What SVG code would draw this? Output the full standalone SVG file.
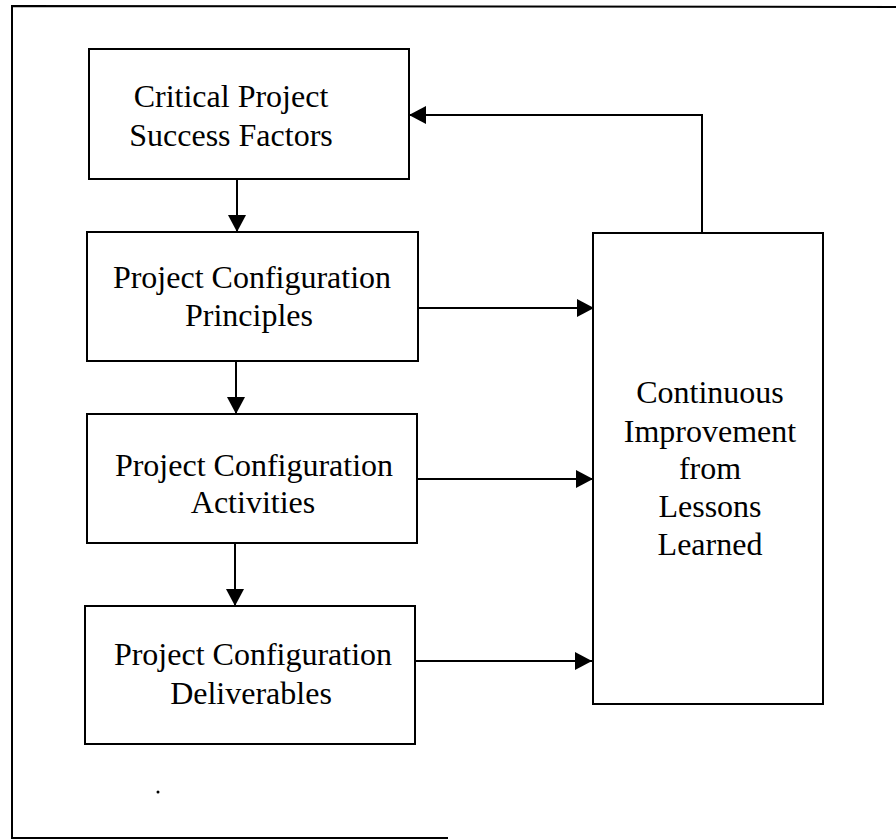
<svg xmlns="http://www.w3.org/2000/svg" width="896" height="840" viewBox="0 0 896 840">
  <style>
    .box { fill: #ffffff; stroke: #000000; stroke-width: 2; }
    .frame { fill: none; stroke: #000000; stroke-width: 2; }
    .link { fill: none; stroke: #000000; stroke-width: 2; }
    .label { font-family: "Liberation Serif", "Times New Roman", serif; font-size: 32px; fill: #000000; text-anchor: middle; }
  </style>
  <defs>
    <marker id="arrow" viewBox="0 0 17 18" refX="17" refY="9" markerWidth="17" markerHeight="18" markerUnits="userSpaceOnUse" orient="auto">
      <path d="M0,0 L17,9 L0,18 Z" fill="#000000"/>
    </marker>
  </defs>

  <rect width="896" height="840" fill="#ffffff"/>

  <!-- outer frame (open on the right) -->
  <g id="frame">
    <path class="frame" d="M896,7 L12,6 L12,838 L448,838"/>
  </g>

  <!-- connectors -->
  <g id="connectors">
    <line class="link" x1="237" y1="179" x2="237" y2="232" marker-end="url(#arrow)"/>
    <line class="link" x1="236" y1="361" x2="236" y2="414" marker-end="url(#arrow)"/>
    <line class="link" x1="235" y1="543" x2="235" y2="606" marker-end="url(#arrow)"/>
    <line class="link" x1="418" y1="308" x2="594" y2="308" marker-end="url(#arrow)"/>
    <line class="link" x1="417" y1="479" x2="593" y2="479" marker-end="url(#arrow)"/>
    <line class="link" x1="415" y1="661" x2="592" y2="661" marker-end="url(#arrow)"/>
    <path class="link" d="M702,233 L702,115 L409,115" marker-end="url(#arrow)"/>
  </g>

  <g id="critical-success-factors">
    <rect class="box" x="89" y="49" width="320" height="130"/>
    <text class="label" x="231" y="107">Critical Project</text>
    <text class="label" x="231" y="146">Success Factors</text>
  </g>

  <g id="configuration-principles">
    <rect class="box" x="87" y="232" width="331" height="129"/>
    <text class="label" x="252" y="288">Project Configuration</text>
    <text class="label" x="249" y="326">Principles</text>
  </g>

  <g id="configuration-activities">
    <rect class="box" x="87" y="414" width="330" height="129"/>
    <text class="label" x="254" y="476">Project Configuration</text>
    <text class="label" x="253" y="513">Activities</text>
  </g>

  <g id="configuration-deliverables">
    <rect class="box" x="85" y="606" width="330" height="138"/>
    <text class="label" x="253" y="665">Project Configuration</text>
    <text class="label" x="251" y="704">Deliverables</text>
  </g>

  <g id="continuous-improvement">
    <rect class="box" x="593" y="233" width="230" height="471"/>
    <text class="label" x="710" y="403">Continuous</text>
    <text class="label" x="710" y="442">Improvement</text>
    <text class="label" x="710" y="479">from</text>
    <text class="label" x="710" y="517">Lessons</text>
    <text class="label" x="710" y="555">Learned</text>
  </g>

  <!-- stray mark near the lower left -->
  <circle cx="158" cy="792" r="1.5" fill="#000000"/>
</svg>
